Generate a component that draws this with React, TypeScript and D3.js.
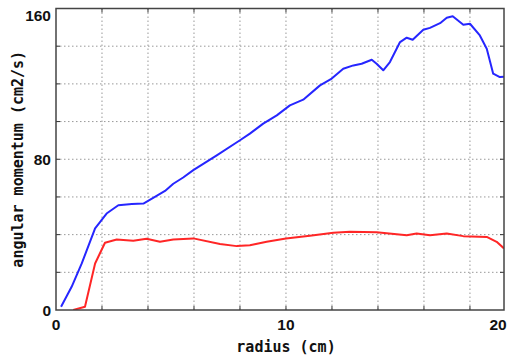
import { useMemo } from "react";
import { scaleLinear, line, range } from "d3";

const width = 508;
const height = 358;
const margin = { top: 8.5, right: 4, bottom: 48, left: 56 };

// radius (cm) / angular momentum (cm2/s)
const blueRadius = [0.22, 0.68, 1.12, 1.7, 2.2, 2.71, 3.3, 3.8, 4.3, 4.74, 5.1, 5.53, 5.97, 6.99, 8.0, 8.43, 9.01, 9.6, 10.17, 10.75, 11.48, 11.99, 12.49, 12.93, 13.29, 13.73, 13.94, 14.23, 14.52, 14.96, 15.25, 15.51, 15.97, 16.26, 16.7, 16.99, 17.25, 17.71, 18.0, 18.43, 18.73, 19.01, 19.3, 19.48];
const blueValue = [1.7, 12.3, 24.7, 43.3, 51.2, 55.6, 56.2, 56.5, 60, 63.2, 67, 70.3, 74.2, 82.1, 90.1, 93.6, 98.9, 103.3, 108.6, 111.6, 119.2, 122.8, 128, 129.8, 130.7, 132.8, 130.7, 127.2, 131.6, 142.2, 144.5, 143.4, 148.7, 149.7, 152.2, 155.1, 155.9, 151.4, 151.9, 145.7, 138.6, 125.4, 123.6, 123.8];

const redRadius = [0.75, 1.26, 1.7, 2.13, 2.64, 3.36, 3.94, 4.52, 5.1, 5.97, 7.13, 7.86, 8.43, 9.16, 10.0, 11.04, 12.06, 12.78, 13.94, 15.25, 15.68, 16.26, 16.99, 17.71, 18.73, 19.16, 19.48];
const redValue = [0, 1.7, 24.7, 35.7, 37.4, 36.7, 37.8, 36.2, 37.4, 38, 35, 33.9, 34.4, 36.2, 38, 39.4, 41, 41.5, 41.2, 39.7, 40.6, 39.7, 40.6, 39.2, 38.8, 36.2, 32.7];

const xDomain = [0, 19.48];
const yDomain = [0, 160];
const xGrid = range(2, 19, 2);
const yGrid = range(20, 160, 20);
const xLabels = [0, 10, 20];
const yLabels = [0, 80, 160];

const tickFont = "'Liberation Sans', Arial, sans-serif";
const labelFont = "'DejaVu Sans Mono', 'Liberation Mono', monospace";

export default function App() {
  const x = useMemo(
    () => scaleLinear().domain(xDomain).range([margin.left, width - margin.right]),
    []
  );
  const y = useMemo(
    () => scaleLinear().domain(yDomain).range([height - margin.bottom, margin.top]),
    []
  );

  const curve = line<[number, number]>()
    .x((d) => x(d[0]))
    .y((d) => y(d[1]));
  const blue = curve(blueRadius.map((r, i) => [r, blueValue[i]]));
  const red = curve(redRadius.map((r, i) => [r, redValue[i]]));

  const [x0, x1] = x.range();
  const [y0, y1] = y.range();

  return (
    <svg
      width={width}
      height={height}
      style={{ position: "absolute", left: 0, top: 0, background: "#fff" }}
    >
      <defs>
        <clipPath id="plot">
          <rect x={x0} y={y1} width={x1 - x0} height={y0 - y1} />
        </clipPath>
      </defs>

      {/* grid */}
      <g stroke="#999" strokeWidth={1} strokeDasharray="1.5,2.5">
        {xGrid.map((t) => (
          <line key={"gx" + t} x1={x(t)} x2={x(t)} y1={y1} y2={y0} />
        ))}
        {yGrid.map((t) => (
          <line key={"gy" + t} x1={x0} x2={x1} y1={y(t)} y2={y(t)} />
        ))}
      </g>

      {/* inward ticks on all sides */}
      <g stroke="#333" strokeWidth={1}>
        {xGrid.map((t) => (
          <g key={"tx" + t}>
            <line x1={x(t)} x2={x(t)} y1={y0} y2={y0 - 4} />
            <line x1={x(t)} x2={x(t)} y1={y1} y2={y1 + 4} />
          </g>
        ))}
        {yGrid.map((t) => (
          <g key={"ty" + t}>
            <line x1={x0} x2={x0 + 4} y1={y(t)} y2={y(t)} />
            <line x1={x1} x2={x1 - 4} y1={y(t)} y2={y(t)} />
          </g>
        ))}
      </g>

      <g clipPath="url(#plot)" fill="none" strokeWidth={2} strokeLinejoin="round">
        <path d={red ?? ""} stroke="#ff2626" />
        <path d={blue ?? ""} stroke="#2626ff" />
      </g>

      <rect
        x={x0}
        y={y1}
        width={x1 - x0}
        height={y0 - y1}
        fill="none"
        stroke="#444"
        strokeWidth={1.5}
      />

      {/* tick labels */}
      <g fontFamily={tickFont} fontWeight="bold" fontSize={15.5} fill="#111">
        {yLabels.map((t) => (
          <text
            key={"ly" + t}
            x={x0 - 5}
            y={Math.max(y(t), y1 + 7)}
            textAnchor="end"
            dominantBaseline="central"
          >
            {t}
          </text>
        ))}
        {xLabels.map((t) => (
          <text
            key={"lx" + t}
            x={Math.min(x(t), x1 - 6)}
            y={y0 + 20}
            textAnchor="middle"
          >
            {t}
          </text>
        ))}
      </g>

      {/* axis titles */}
      <text
        x={(x0 + x1) / 2 + 6}
        y={352}
        textAnchor="middle"
        fontFamily={labelFont}
        fontWeight="bold"
        fontSize={15}
        fill="#111"
      >
        radius (cm)
      </text>
      <text
        transform={`translate(23, ${(y0 + y1) / 2}) rotate(-90)`}
        textAnchor="middle"
        fontFamily={labelFont}
        fontWeight="bold"
        fontSize={15}
        fill="#111"
      >
        angular momentum (cm2/s)
      </text>
    </svg>
  );
}
